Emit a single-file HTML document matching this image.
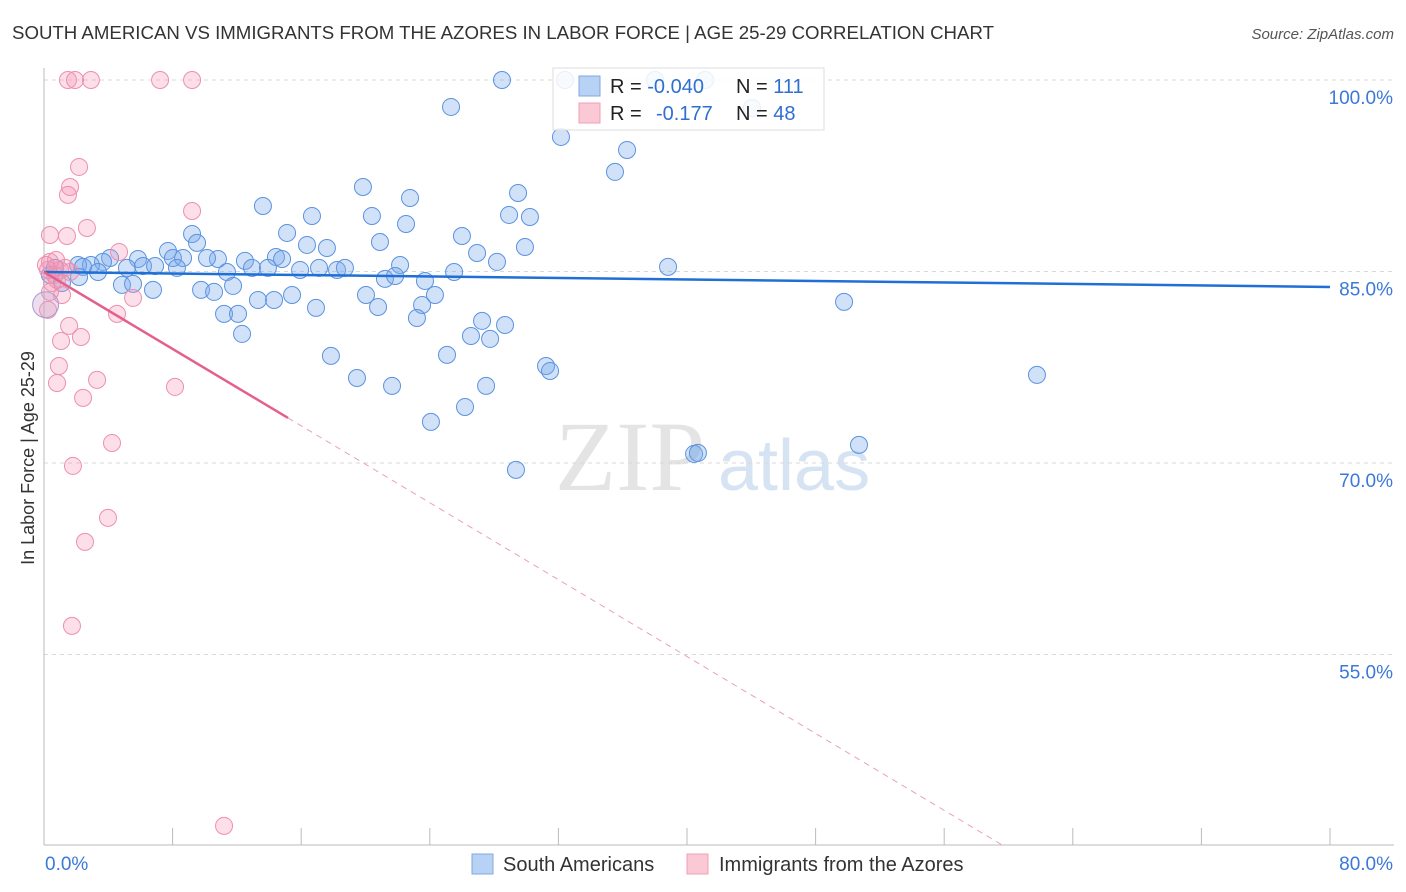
<!DOCTYPE html>
<html><head><meta charset="utf-8"><style>
body{margin:0;background:#fff;font-family:"Liberation Sans",sans-serif}
svg{display:block}
</style></head><body>
<svg id="chart" width="1406" height="892" xmlns="http://www.w3.org/2000/svg">
<text x="12" y="39" font-size="18" fill="#333" textLength="982" lengthAdjust="spacingAndGlyphs">SOUTH AMERICAN VS IMMIGRANTS FROM THE AZORES IN LABOR FORCE | AGE 25-29 CORRELATION CHART</text>
<text x="1394" y="39" font-size="15" fill="#555" font-style="italic" text-anchor="end">Source: ZipAtlas.com</text>
<text x="555" y="490" font-size="100" fill="#e4e4e4" font-family="Liberation Serif,serif">ZIP</text>
<text x="718" y="490" font-size="72" fill="#d6e3f3">atlas</text>
<text transform="translate(34,458) rotate(-90)" font-size="18" fill="#333" text-anchor="middle">In Labor Force | Age 25-29</text>
<g id="grid"></g><g id="pts"></g><g id="lines"></g>
<g>
<rect x="553" y="68" width="271" height="62" fill="rgba(255,255,255,0.85)" stroke="#ddd"/>
<rect x="579" y="76" width="21" height="20" fill="#b8d2f5" stroke="#7fa8e0"/>
<rect x="579" y="103" width="21" height="20" fill="#fbc8d6" stroke="#eea0b6"/>
<text x="610" y="93" font-size="20" fill="#222">R = <tspan fill="#2f6fd0">-0.040</tspan><tspan x="736">N = </tspan><tspan fill="#2f6fd0">111</tspan></text>
<text x="610" y="120" font-size="20" fill="#222">R = <tspan x="656" fill="#2f6fd0">-0.177</tspan><tspan x="736">N = </tspan><tspan fill="#2f6fd0">48</tspan></text>
</g>
<g>
<rect x="472" y="854" width="21" height="20" fill="#b8d2f5" stroke="#7fa8e0"/>
<text x="503" y="871" font-size="20" fill="#333">South Americans</text>
<rect x="687" y="854" width="21" height="20" fill="#fbc8d6" stroke="#eea0b6"/>
<text x="719" y="871" font-size="20" fill="#333">Immigrants from the Azores</text>
</g>
</svg>
<script>
const xTicks=[0,80];
const yTicks=[100,85,70,55];
const blueX=[28.49,25.32,32.16,36.27,35.52,19.84,29.49,22.77,13.62,28.93,30.23,20.40,16.67,22.52,26.00,15.12,9.21,29.92,9.52,20.90,17.60,16.36,26.94,7.71,8.02,8.65,10.82,10.14,12.50,14.43,14.81,5.85,4.11,3.67,2.92,2.12,2.43,5.16,6.16,6.91,8.27,11.38,12.94,13.93,15.93,17.11,18.23,18.72,22.15,28.18,25.51,38.82,3.36,2.18,4.85,5.54,6.78,9.77,10.58,11.76,13.31,14.31,15.43,16.92,20.03,21.21,21.84,23.70,24.32,23.52,20.78,23.20,11.20,12.07,12.32,27.25,28.68,26.56,27.75,17.85,25.07,19.47,21.65,27.50,31.23,31.48,26.19,24.07,29.36,40.44,40.68,49.77,61.77,50.70,32.41,38.01,41.12,44.04,0.37,0.68,1.12];
const blueY=[100,97.89,95.54,94.52,92.80,91.62,91.15,90.76,90.13,89.43,89.27,89.35,89.35,88.72,87.78,88.02,87.94,86.92,87.24,87.31,86.84,87.08,86.45,86.61,86.06,86.06,85.98,86.06,85.83,86.14,85.98,85.98,86.06,85.75,85.51,85.51,85.36,85.28,85.43,85.43,85.28,84.96,85.28,85.28,85.12,85.28,85.12,85.28,85.51,85.75,84.96,85.36,84.96,84.57,83.95,84.03,83.56,83.56,83.40,83.87,82.77,82.77,83.16,82.15,83.16,84.42,84.65,84.26,83.16,82.38,82.22,81.36,81.68,81.68,80.11,81.13,80.81,79.95,79.72,78.39,78.47,76.66,76.04,76.04,77.60,77.21,74.39,73.22,69.46,70.71,70.79,82.62,76.90,71.42,100,100,100,97.81,84.73,85.28,84.10];
const pinkX=[1.49,1.93,2.92,7.22,9.21,2.18,1.62,1.49,9.21,2.67,0.37,1.43,4.67,0.37,1.0,0.68,0.50,1.12,0.25,4.54,5.54,1.56,2.30,1.06,0.93,0.81,3.30,8.15,2.43,4.23,1.80,3.98,2.55,1.74,11.20,0.37,0.81,0.25,0.12,1.31,1.62,0.75];
const pinkY=[100,100,100,100,100,93.19,91.62,91.0,89.74,88.41,87.86,87.78,86.53,85.75,85.12,84.73,84.10,83.16,81.99,81.68,82.93,80.74,79.87,79.56,77.6,76.27,76.51,75.96,75.1,71.57,69.77,65.70,63.82,57.24,41.58,83.4,84.34,85.12,85.51,85.28,84.96,85.9];
const blueTrend=[84.96,83.79];
const pinkTrend=[84.96,-0.753];
const NS="http://www.w3.org/2000/svg";
const X0=44,X1=1330,Y100=80,PX15=191.5;
const sx=v=>X0+(v-xTicks[0])/(xTicks[1]-xTicks[0])*(X1-X0);
const sy=v=>Y100+(100-v)/15*PX15;
function mk(tag,attrs,parent){const e=document.createElementNS(NS,tag);for(const k in attrs)e.setAttribute(k,attrs[k]);parent.appendChild(e);return e;}
const grid=document.getElementById('grid');
yTicks.forEach(t=>{
 const l=mk('line',{x1:X0,x2:1394,y1:sy(t),y2:sy(t),stroke:'#d8d8d8','stroke-dasharray':'4,4'},grid);
 
 
 const tx=mk('text',{x:1393,y:sy(t)+24,'font-size':19,fill:'#3b78d8','text-anchor':'end'},grid);
 tx.textContent=t.toFixed(1)+'%';
 
 
});
const ax=mk('line',{x1:X0,x2:X0,y1:68,y2:845,stroke:'#bbb'},grid);


const bx=mk('line',{x1:X0,x2:1394,y1:845,y2:845,stroke:'#bbb'},grid);


for(let i=0;i<=10;i++){const v=i*8;const t=mk('line',{x1:sx(v),x2:sx(v),y1:828,y2:845,stroke:'#bbb'},grid);
 
 }
xTicks.forEach((t,i)=>{const tx=mk('text',{x:i?1393:45,y:870,'font-size':19,fill:'#3b78d8','text-anchor':i?'end':'start'},grid);
 tx.textContent=t.toFixed(1)+'%';
 
 });
const pts=document.getElementById('pts');
blueX.forEach((x,i)=>{const c=mk('circle',{cx:sx(x),cy:sy(blueY[i]),r:8.5,fill:'rgba(120,170,235,0.35)',stroke:'#5b93e0','stroke-width':1},pts);
 
 });
pinkX.forEach((x,i)=>{const c=mk('circle',{cx:sx(x),cy:sy(pinkY[i]),r:8.5,fill:'rgba(245,150,180,0.3)',stroke:'#ee8faf','stroke-width':1},pts);
 
 });
const big=mk('circle',{cx:sx(0.1),cy:sy(82.4),r:13,fill:'rgba(200,160,200,0.35)',stroke:'#a99ad8'},pts);


const lines=document.getElementById('lines');
const bl=mk('line',{x1:sx(0),y1:sy(blueTrend[0]),x2:sx(80),y2:sy(blueTrend[1]),stroke:'#1f6fd6','stroke-width':2.5},lines);


const pEnd=15.18, pDash=(pinkTrend[0]-40.1)/-pinkTrend[1];
const pl=mk('line',{x1:sx(0),y1:sy(pinkTrend[0]),x2:sx(pEnd),y2:sy(pinkTrend[0]+pinkTrend[1]*pEnd),stroke:'#e4608c','stroke-width':2.5},lines);


const pd=mk('line',{x1:sx(pEnd),y1:sy(pinkTrend[0]+pinkTrend[1]*pEnd),x2:sx(pDash),y2:sy(pinkTrend[0]+pinkTrend[1]*pDash),stroke:'#eaa0b8','stroke-width':1,'stroke-dasharray':'6,5'},lines);


</script>
</body></html>
